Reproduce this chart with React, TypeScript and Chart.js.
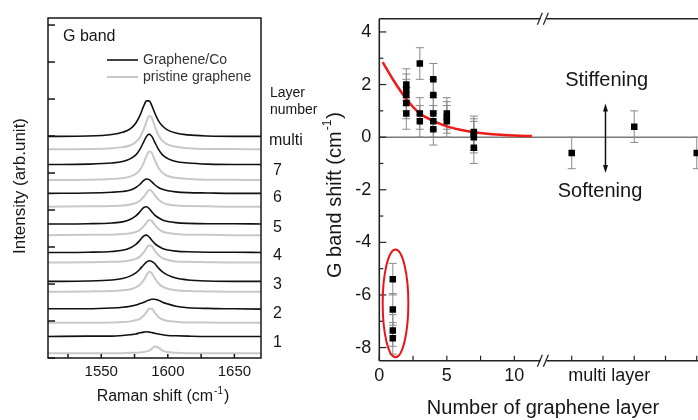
import React, { useEffect, useRef } from 'react';
import { Chart, registerables } from 'chart.js';

Chart.register(...registerables);

const FONT = '"Liberation Sans", Arial, sans-serif';
const INK = '#161616';

// ---------------- Left panel: G band Raman spectra ----------------
const RAMAN_SHIFT = [1510, 1540, 1558, 1566, 1572, 1576, 1579, 1582, 1584, 1586, 1588, 1590, 1593, 1596, 1600, 1606, 1615, 1630, 1650, 1670];

const CO_MULTI = [5.99, 6.0, 6.04, 6.1, 6.2, 6.35, 6.55, 6.82, 6.95, 6.95, 6.82, 6.64, 6.41, 6.27, 6.16, 6.08, 6.03, 6.0, 5.99, 5.99];
const PRISTINE_MULTI = [5.64, 5.65, 5.67, 5.7, 5.75, 5.84, 5.96, 6.19, 6.39, 6.54, 6.49, 6.29, 6.02, 5.87, 5.77, 5.71, 5.67, 5.65, 5.65, 5.64];
const CO_7 = [5.23, 5.24, 5.27, 5.31, 5.39, 5.49, 5.64, 5.85, 5.99, 6.05, 5.99, 5.85, 5.64, 5.49, 5.39, 5.31, 5.27, 5.24, 5.23, 5.23];
const PRISTINE_7 = [4.81, 4.82, 4.84, 4.86, 4.91, 4.98, 5.08, 5.28, 5.46, 5.58, 5.54, 5.37, 5.14, 5.01, 4.92, 4.87, 4.84, 4.82, 4.82, 4.81];
const CO_6 = [4.45, 4.46, 4.48, 4.5, 4.54, 4.61, 4.69, 4.8, 4.84, 4.82, 4.76, 4.69, 4.61, 4.56, 4.52, 4.49, 4.47, 4.46, 4.45, 4.45];
const PRISTINE_6 = [4.09, 4.1, 4.11, 4.12, 4.15, 4.19, 4.25, 4.36, 4.46, 4.54, 4.51, 4.41, 4.28, 4.2, 4.15, 4.12, 4.11, 4.1, 4.09, 4.09];
const CO_5 = [3.62, 3.63, 3.65, 3.68, 3.75, 3.84, 3.95, 4.07, 4.09, 4.04, 3.95, 3.87, 3.79, 3.73, 3.69, 3.66, 3.64, 3.63, 3.63, 3.62];
const PRISTINE_5 = [3.32, 3.33, 3.33, 3.35, 3.37, 3.41, 3.46, 3.57, 3.66, 3.73, 3.7, 3.61, 3.49, 3.42, 3.38, 3.35, 3.33, 3.33, 3.32, 3.32];
const CO_4 = [2.85, 2.86, 2.88, 2.91, 2.98, 3.07, 3.18, 3.3, 3.32, 3.27, 3.18, 3.1, 3.02, 2.96, 2.92, 2.89, 2.87, 2.86, 2.86, 2.85];
const PRISTINE_4 = [2.58, 2.59, 2.6, 2.61, 2.64, 2.68, 2.74, 2.86, 2.97, 3.05, 3.02, 2.91, 2.78, 2.7, 2.65, 2.61, 2.6, 2.59, 2.58, 2.58];
const CO_3 = [2.07, 2.08, 2.11, 2.15, 2.22, 2.3, 2.4, 2.52, 2.59, 2.63, 2.61, 2.56, 2.43, 2.33, 2.24, 2.16, 2.11, 2.08, 2.07, 2.07];
const PRISTINE_3 = [1.79, 1.8, 1.81, 1.83, 1.86, 1.91, 1.98, 2.11, 2.24, 2.33, 2.29, 2.17, 2.02, 1.93, 1.87, 1.83, 1.81, 1.8, 1.79, 1.79];
const CO_2 = [1.33, 1.33, 1.35, 1.37, 1.4, 1.43, 1.47, 1.51, 1.54, 1.57, 1.59, 1.59, 1.56, 1.51, 1.46, 1.4, 1.36, 1.34, 1.33, 1.32];
const PRISTINE_2 = [0.95, 0.95, 0.96, 0.97, 0.99, 1.02, 1.06, 1.15, 1.24, 1.33, 1.33, 1.24, 1.11, 1.04, 1.0, 0.98, 0.96, 0.96, 0.95, 0.95];
const CO_1 = [0.58, 0.59, 0.59, 0.61, 0.63, 0.65, 0.68, 0.7, 0.71, 0.7, 0.69, 0.67, 0.65, 0.63, 0.61, 0.6, 0.59, 0.58, 0.58, 0.58];
const PRISTINE_1 = [0.13, 0.13, 0.13, 0.13, 0.14, 0.14, 0.15, 0.16, 0.18, 0.2, 0.25, 0.31, 0.28, 0.2, 0.16, 0.14, 0.13, 0.13, 0.13, 0.13];

const LAYER_NAMES = ['multi', '7', '6', '5', '4', '3', '2', '1'];
const CO_TRACES = [CO_MULTI, CO_7, CO_6, CO_5, CO_4, CO_3, CO_2, CO_1];
const PRISTINE_TRACES = [PRISTINE_MULTI, PRISTINE_7, PRISTINE_6, PRISTINE_5, PRISTINE_4, PRISTINE_3, PRISTINE_2, PRISTINE_1];
const RAMAN_TICKS = [1550, 1600, 1650];
const RAMAN_MINOR_TICKS = [1525, 1550, 1575, 1600, 1625, 1650];
const INTENSITY_TICKS = [0, 1, 2, 3, 4, 5, 6, 7, 8, 9];

// ---------------- Right panel: G band shift vs layer number ----------------
const LAYER_N = [1, 1, 1, 1, 2, 2, 2, 2, 2, 3, 3, 3, 4, 4, 4, 4, 4, 5, 5, 5, 7, 7, 7, 7];
const LAYER_SHIFT = [-5.4, -6.55, -7.35, -7.65, 2.0, 1.8, 1.6, 1.3, 0.9, 2.8, 0.9, 0.6, 2.2, 1.6, 0.9, 0.6, 0.3, 0.9, 0.75, 0.6, 0.2, 0.1, 0.0, -0.4];
const LAYER_ERR = [0.6, 0.6, 0.6, 0.6, 0.6, 0.6, 0.6, 0.6, 0.6, 0.6, 0.6, 0.6, 0.6, 0.6, 0.6, 0.6, 0.6, 0.6, 0.6, 0.6, 0.6, 0.6, 0.6, 0.6];
const MULTI_SAMPLE = [1, 2, 3];
const MULTI_SHIFT = [-0.6, 0.4, -0.6];
const MULTI_ERR = [0.6, 0.6, 0.6];
const FIT_N = [0.25, 1, 2, 3, 4, 5, 6, 7, 8, 9, 10, 11.3];
const FIT_SHIFT = [2.85, 2.2, 1.45, 0.9, 0.62, 0.41, 0.28, 0.19, 0.13, 0.09, 0.06, 0.04];
const SHIFT_TICKS = [-8, -6, -4, -2, 0, 2, 4];
const SHIFT_MINOR_TICKS = [-7, -5, -3, -1, 1, 3];
const LAYER_TICKS = [0, 5, 10];
const LAYER_MINOR_TICKS = [0, 2.5, 5, 7.5, 10];
const MULTI_MINOR_TICKS = [1, 1.5, 2, 2.5, 3];

function line(ctx: any, x1: number, y1: number, x2: number, y2: number) {
  ctx.beginPath();
  ctx.moveTo(x1, y1);
  ctx.lineTo(x2, y2);
  ctx.stroke();
}

// draws "main" + superscript + "tail" centred at (0,0) of the current transform
function drawSupText(ctx: any, main: string, sup: string, tail: string, size: number) {
  ctx.font = `${size}px ${FONT}`;
  const w1 = ctx.measureText(main).width;
  const w3 = ctx.measureText(tail).width;
  ctx.font = `${Math.round(size * 0.6)}px ${FONT}`;
  const w2 = ctx.measureText(sup).width + 2;
  const total = w1 + w2 + w3;
  let x = -total / 2;
  ctx.textAlign = 'left';
  ctx.textBaseline = 'middle';
  ctx.font = `${size}px ${FONT}`;
  ctx.fillText(main, x, 0);
  x += w1;
  ctx.font = `${Math.round(size * 0.6)}px ${FONT}`;
  ctx.fillText(sup, x + 1, -size * 0.38);
  x += w2;
  ctx.font = `${size}px ${FONT}`;
  ctx.fillText(tail, x, 0);
}

const LEFT_W = 318;
const RIGHT_LEFT = 318;
const RIGHT_W = 698 - RIGHT_LEFT;

const spectraDecor = {
  id: 'spectraDecor',
  afterDraw(chart: any) {
    const { ctx, chartArea: a, scales } = chart;
    const x = scales.x;
    const y = scales.y;
    ctx.save();
    ctx.strokeStyle = INK;
    ctx.lineWidth = 1.5;
    ctx.strokeRect(a.left, a.top, a.right - a.left, a.bottom - a.top);
    INTENSITY_TICKS.forEach((v) => {
      const py = y.getPixelForValue(v);
      line(ctx, a.left, py, a.left + 7, py);
    });
    RAMAN_MINOR_TICKS.forEach((v) => {
      const px = x.getPixelForValue(v);
      line(ctx, px, a.bottom, px, a.bottom - 4);
    });

    ctx.fillStyle = INK;
    ctx.textBaseline = 'middle';
    ctx.textAlign = 'left';
    ctx.font = `16px ${FONT}`;
    ctx.fillText('G band', 63, 37);

    // legend
    ctx.lineWidth = 1.6;
    ctx.strokeStyle = '#111';
    line(ctx, 107, 60, 138, 60);
    ctx.strokeStyle = '#c8c8c8';
    ctx.lineWidth = 2;
    line(ctx, 107, 77, 138, 77);
    ctx.fillStyle = '#333';
    ctx.font = `14px ${FONT}`;
    ctx.fillText('Graphene/Co', 143, 60);
    ctx.fillText('pristine graphene', 143, 77);

    // layer labels
    ctx.fillStyle = INK;
    ctx.font = `14px ${FONT}`;
    ctx.fillText('Layer', 270, 93);
    ctx.fillText('number', 270, 110);
    ctx.font = `16px ${FONT}`;
    LAYER_NAMES.forEach((name, i) => {
      const co = CO_TRACES[i];
      const pr = PRISTINE_TRACES[i];
      const yMid = (y.getPixelForValue(co[co.length - 1]) + y.getPixelForValue(pr[pr.length - 1])) / 2 - 2;
      ctx.fillText(name, name === 'multi' ? a.right + 8 : a.right + 12, yMid);
    });

    // axis titles
    ctx.save();
    ctx.translate(163, 397);
    drawSupText(ctx, 'Raman shift (cm', '-1', ')', 16);
    ctx.restore();
    ctx.save();
    ctx.translate(20, 186);
    ctx.rotate(-Math.PI / 2);
    ctx.textAlign = 'center';
    ctx.textBaseline = 'middle';
    ctx.font = `17px ${FONT}`;
    ctx.fillText('Intensity (arb.unit)', 0, 0);
    ctx.restore();
    ctx.restore();
  },
};

const shiftDecor = {
  id: 'shiftDecor',
  beforeDatasetsDraw(chart: any) {
    const { ctx, chartArea: a, scales } = chart;
    const y = scales.y;
    ctx.save();
    // zero reference line
    ctx.strokeStyle = '#7a7a7a';
    ctx.lineWidth = 1.5;
    const y0 = y.getPixelForValue(0);
    line(ctx, a.left, y0, a.right, y0);
    // error bars
    ctx.strokeStyle = '#8a8a8a';
    ctx.lineWidth = 1;
    chart.data.datasets.forEach((ds: any, i: number) => {
      if (!ds.errors) return;
      const meta = chart.getDatasetMeta(i);
      meta.data.forEach((pt: any, j: number) => {
        const v = ds.data[j].y;
        const e = ds.errors[j];
        const yt = y.getPixelForValue(v + e);
        const yb = y.getPixelForValue(v - e);
        line(ctx, pt.x, yt, pt.x, yb);
        line(ctx, pt.x - 4, yt, pt.x + 4, yt);
        line(ctx, pt.x - 4, yb, pt.x + 4, yb);
      });
    });
    ctx.restore();
  },
  afterDraw(chart: any) {
    const { ctx, chartArea: a, scales } = chart;
    const x = scales.x;
    const x2 = scales.x2;
    const y = scales.y;
    ctx.save();
    ctx.strokeStyle = '#222';
    ctx.lineWidth = 1.6;
    const bx = x.getPixelForValue(12.15);
    // axes with break
    line(ctx, a.left, a.top, a.left, a.bottom);
    line(ctx, a.left, a.bottom, bx - 3, a.bottom);
    line(ctx, bx + 3, a.bottom, a.right, a.bottom);
    line(ctx, a.left, a.top, bx - 3, a.top);
    line(ctx, bx + 3, a.top, a.right, a.top);
    ctx.lineWidth = 1.2;
    [a.top, a.bottom].forEach((yy) => {
      line(ctx, bx - 6, yy + 6, bx - 1, yy - 6);
      line(ctx, bx, yy + 6, bx + 5, yy - 6);
    });
    // ticks
    ctx.lineWidth = 1.2;
    SHIFT_TICKS.forEach((v) => {
      const py = y.getPixelForValue(v);
      line(ctx, a.left, py, a.left + 7, py);
    });
    SHIFT_MINOR_TICKS.forEach((v) => {
      const py = y.getPixelForValue(v);
      line(ctx, a.left, py, a.left + 4, py);
    });
    LAYER_MINOR_TICKS.forEach((v) => {
      const px = x.getPixelForValue(v);
      line(ctx, px, a.bottom, px, a.bottom - 5);
    });
    MULTI_MINOR_TICKS.forEach((v) => {
      const px = x2.getPixelForValue(v);
      line(ctx, px, a.bottom, px, a.bottom - 5);
    });

    // red ellipse around monolayer points
    ctx.strokeStyle = '#e8141c';
    ctx.lineWidth = 2;
    const cx = x.getPixelForValue(1.2);
    const cy = y.getPixelForValue(-6.32);
    const rx = x.getPixelForValue(1.2 + 0.95) - cx;
    const ry = y.getPixelForValue(-6.32 - 2.05) - cy;
    ctx.beginPath();
    ctx.ellipse(cx, cy, rx, ry, 0, 0, Math.PI * 2);
    ctx.stroke();

    // double arrow
    const ax = x2.getPixelForValue(1.54);
    const at = y.getPixelForValue(1.28);
    const ab = y.getPixelForValue(-1.36);
    ctx.strokeStyle = '#111';
    ctx.fillStyle = '#111';
    ctx.lineWidth = 1.5;
    line(ctx, ax, at + 4, ax, ab - 4);
    ctx.beginPath();
    ctx.moveTo(ax, at);
    ctx.lineTo(ax - 2.5, at + 8);
    ctx.lineTo(ax + 2.5, at + 8);
    ctx.closePath();
    ctx.fill();
    ctx.beginPath();
    ctx.moveTo(ax, ab);
    ctx.lineTo(ax - 2.5, ab - 8);
    ctx.lineTo(ax + 2.5, ab - 8);
    ctx.closePath();
    ctx.fill();

    // texts
    ctx.fillStyle = INK;
    ctx.textAlign = 'center';
    ctx.textBaseline = 'middle';
    ctx.font = `20px ${FONT}`;
    ctx.fillText('Stiffening', 606.7 - RIGHT_LEFT, 80);
    ctx.fillText('Softening', 600 - RIGHT_LEFT, 191);
    ctx.font = `18px ${FONT}`;
    ctx.fillText('multi layer', x2.getPixelForValue(1.6), 376.5);
    ctx.font = `20px ${FONT}`;
    ctx.fillText('Number of graphene layer', 543 - RIGHT_LEFT, 408);
    ctx.save();
    ctx.translate(335 - RIGHT_LEFT, 195);
    ctx.rotate(-Math.PI / 2);
    drawSupText(ctx, 'G band shift (cm', '-1', ')', 20);
    ctx.restore();
    ctx.restore();
  },
};

function SpectraChart() {
  const ref = useRef<HTMLCanvasElement>(null);
  useEffect(() => {
    const datasets: any[] = [];
    CO_TRACES.forEach((trace, i) => {
      datasets.push({
        label: 'Graphene/Co ' + LAYER_NAMES[i],
        data: RAMAN_SHIFT.map((r, j) => ({ x: r, y: trace[j] })),
        borderColor: '#111',
        borderWidth: 1.6,
        pointRadius: 0,
        cubicInterpolationMode: 'monotone',
      });
    });
    PRISTINE_TRACES.forEach((trace, i) => {
      datasets.push({
        label: 'pristine graphene ' + LAYER_NAMES[i],
        data: RAMAN_SHIFT.map((r, j) => ({ x: r, y: trace[j] })),
        borderColor: '#c8c8c8',
        borderWidth: 2,
        pointRadius: 0,
        cubicInterpolationMode: 'monotone',
      });
    });
    const chart = new Chart(ref.current as HTMLCanvasElement, {
      type: 'line',
      data: { datasets },
      options: {
        animation: false,
        responsive: false,
        events: [],
        layout: { autoPadding: false, padding: { top: 18, right: LEFT_W - 261, left: 0, bottom: 0 } },
        plugins: { legend: { display: false }, tooltip: { enabled: false } },
        scales: {
          x: {
            type: 'linear',
            min: 1510,
            max: 1670,
            grid: { display: false, drawTicks: false },
            border: { display: false },
            afterBuildTicks: (s: any) => {
              s.ticks = RAMAN_TICKS.map((v) => ({ value: v }));
            },
            ticks: {
              font: { family: FONT, size: 15 },
              color: INK,
              padding: 5,
              maxRotation: 0,
              autoSkip: false,
              callback: (v: any) => String(v),
            },
            afterFit: (s: any) => {
              s.height = 62;
            },
          },
          y: {
            type: 'linear',
            min: 0,
            max: 9.19,
            grid: { display: false, drawTicks: false },
            border: { display: false },
            ticks: { display: false },
            afterBuildTicks: (s: any) => {
              s.ticks = INTENSITY_TICKS.map((v) => ({ value: v }));
            },
            afterFit: (s: any) => {
              s.width = 48;
            },
          },
        },
      } as any,
      plugins: [spectraDecor],
    });
    return () => chart.destroy();
  }, []);
  return (
    <canvas
      ref={ref}
      width={LEFT_W}
      height={420}
      style={{ position: 'absolute', left: 0, top: 0, width: LEFT_W, height: 420 }}
    />
  );
}

function ShiftChart() {
  const ref = useRef<HTMLCanvasElement>(null);
  useEffect(() => {
    const chart = new Chart(ref.current as HTMLCanvasElement, {
      type: 'scatter',
      data: {
        datasets: [
          {
            label: 'layers',
            data: LAYER_N.map((n, i) => ({ x: n, y: LAYER_SHIFT[i] })),
            errors: LAYER_ERR,
            xAxisID: 'x',
            pointStyle: 'rect',
            pointRadius: 4.6,
            backgroundColor: '#000',
            borderColor: '#000',
            borderWidth: 0,
          },
          {
            label: 'multi layer',
            data: MULTI_SAMPLE.map((n, i) => ({ x: n, y: MULTI_SHIFT[i] })),
            errors: MULTI_ERR,
            xAxisID: 'x2',
            pointStyle: 'rect',
            pointRadius: 4.6,
            backgroundColor: '#000',
            borderColor: '#000',
            borderWidth: 0,
          },
          {
            label: 'fit',
            type: 'line',
            data: FIT_N.map((n, i) => ({ x: n, y: FIT_SHIFT[i] })),
            xAxisID: 'x',
            showLine: true,
            borderColor: '#ee1b1b',
            borderWidth: 2.5,
            pointRadius: 0,
            cubicInterpolationMode: 'monotone',
          },
        ] as any,
      },
      options: {
        animation: false,
        responsive: false,
        events: [],
        layout: { autoPadding: false, padding: { top: 15.7, right: 0, left: 0, bottom: 0 } },
        plugins: { legend: { display: false }, tooltip: { enabled: false } },
        scales: {
          x: {
            type: 'linear',
            position: 'bottom',
            min: 0,
            max: 23.6,
            grid: { display: false, drawTicks: false },
            border: { display: false },
            afterBuildTicks: (s: any) => {
              s.ticks = LAYER_TICKS.map((v) => ({ value: v }));
            },
            ticks: { font: { family: FONT, size: 18 }, color: INK, padding: 5, maxRotation: 0, autoSkip: false },
            afterFit: (s: any) => {
              s.height = 59.3;
            },
          },
          x2: {
            type: 'linear',
            axis: 'x',
            position: 'bottom',
            display: false,
            min: -2.078,
            max: 3.02,
          },
          y: {
            type: 'linear',
            min: -8.5,
            max: 4.5,
            grid: { display: false, drawTicks: false },
            border: { display: false },
            afterBuildTicks: (s: any) => {
              s.ticks = SHIFT_TICKS.map((v) => ({ value: v }));
            },
            ticks: { font: { family: FONT, size: 18 }, color: INK, padding: 8, autoSkip: false },
            afterFit: (s: any) => {
              s.width = 379.3 - RIGHT_LEFT;
            },
          },
        },
      } as any,
      plugins: [shiftDecor],
    });
    return () => chart.destroy();
  }, []);
  return (
    <canvas
      ref={ref}
      width={RIGHT_W}
      height={420}
      style={{ position: 'absolute', left: RIGHT_LEFT, top: 0, width: RIGHT_W, height: 420 }}
    />
  );
}

export default function App() {
  return (
    <div style={{ position: 'fixed', left: 0, top: 0, width: 698, height: 420, background: '#fff', overflow: 'hidden' }}>
      <SpectraChart />
      <ShiftChart />
    </div>
  );
}
